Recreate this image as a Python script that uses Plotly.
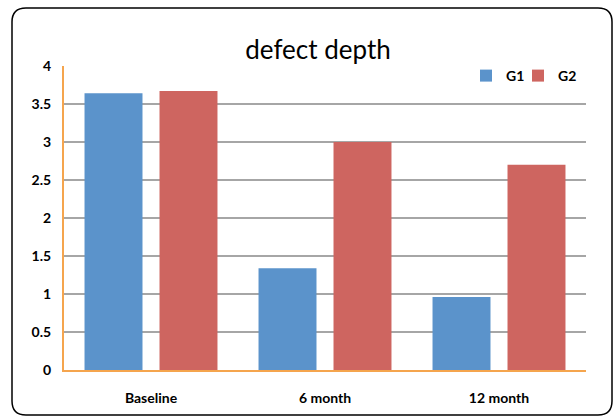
import plotly.graph_objects as go

categories = ["Baseline", "6 month", "12 month"]
g1_values = [3.64, 1.34, 0.96]
g2_values = [3.67, 3.0, 2.70]
series_names = ["G1", "G2"]
y_ticks = [0, 0.5, 1, 1.5, 2, 2.5, 3, 3.5, 4]
y_tick_labels = ["0", "0.5", "1", "1.5", "2", "2.5", "3", "3.5", "4"]

FONT = "Lato, Open Sans, sans-serif"

fig = go.Figure()
fig.add_trace(go.Bar(x=categories, y=g1_values, name=series_names[0], legend="legend",
                     marker=dict(color="#5B93CB", line=dict(width=0))))
fig.add_trace(go.Bar(x=categories, y=g2_values, name=series_names[1], legend="legend2",
                     marker=dict(color="#CE6560", line=dict(width=0))))

W, H = 616, 419
ml, mr, mt, mb = 64, 30, 66, 49
pw, ph = W - ml - mr, H - mt - mb

def px(x):
    return (x - ml) / pw

def py(y):
    return (H - mb - y) / ph

# rounded border
x0, x1, y0, y1, r = 12, 612, 8, 415, 14
path = (f"M {px(x0+r)} {py(y0)} L {px(x1-r)} {py(y0)} "
        f"Q {px(x1)} {py(y0)} {px(x1)} {py(y0+r)} "
        f"L {px(x1)} {py(y1-r)} Q {px(x1)} {py(y1)} {px(x1-r)} {py(y1)} "
        f"L {px(x0+r)} {py(y1)} Q {px(x0)} {py(y1)} {px(x0)} {py(y1-r)} "
        f"L {px(x0)} {py(y0+r)} Q {px(x0)} {py(y0)} {px(x0+r)} {py(y0)} Z")

legend_style = dict(orientation="h", xanchor="left", yanchor="middle",
                    font=dict(family=FONT, size=14, color="black", weight="bold"),
                    itemwidth=30, bgcolor="rgba(0,0,0,0)")

fig.update_layout(
    width=W, height=H,
    margin=dict(l=ml, r=mr, t=mt, b=mb, autoexpand=False),
    paper_bgcolor="white", plot_bgcolor="white",
    barmode="group", bargap=0.138, bargroupgap=0.227,
    title=dict(text="defect depth", x=318 / W, xref="container", xanchor="center",
               y=1 - 50 / H, yref="container", yanchor="middle",
               font=dict(family=FONT, size=26, color="black")),
    legend=dict(x=px(466), y=py(76), **legend_style),
    legend2=dict(x=px(518), y=py(76), **legend_style),
    showlegend=True,
    font=dict(family=FONT, color="black"),
    shapes=[dict(type="path", xref="paper", yref="paper", path=path,
                 line=dict(color="black", width=1.5), fillcolor="rgba(0,0,0,0)", layer="above")],
)
fig.update_xaxes(showgrid=False, showline=True, linecolor="#F5A54E", linewidth=2,
                 ticks="", tickfont=dict(family=FONT, size=14, color="black", weight="bold"),
                 ticklabelstandoff=14)
fig.update_yaxes(range=[0, 4], tickvals=y_ticks, ticktext=y_tick_labels,
                 showgrid=True, gridcolor="#A6A6A6", gridwidth=1.5,
                 showline=True, linecolor="#F5A54E", linewidth=2, zeroline=False,
                 ticks="", tickfont=dict(family=FONT, size=14, color="black", weight="bold"),
                 ticklabelstandoff=8)

fig.write_html("out.html", config={"displayModeBar": False},
               post_script="document.body.style.margin='0';document.body.style.overflow='hidden';")
